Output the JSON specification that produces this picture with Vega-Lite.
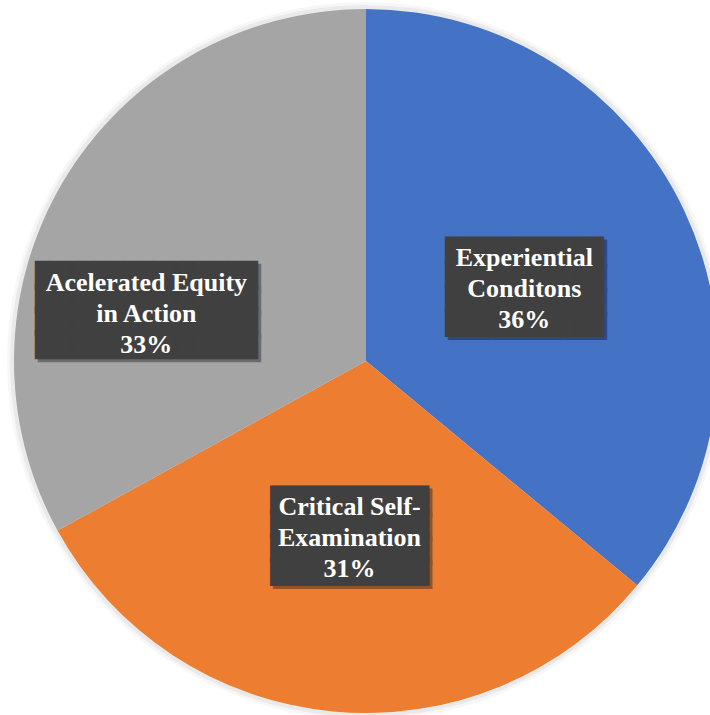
{
  "$schema": "https://vega.github.io/schema/vega-lite/v6.json",
  "width": 732,
  "height": 722,
  "autosize": "none",
  "padding": 0,
  "background": "white",
  "view": {"stroke": null},
  "data": {"values": [
    {"category": "Experiential\nConditons", "value": 36},
    {"category": "Critical Self-\nExamination", "value": 31},
    {"category": "Acelerated Equity\nin Action", "value": 33}
  ]},
  "transform": [
    {"window": [{"op": "row_number", "as": "idx"}]},
    {"calculate": "datum.category + '\\n' + datum.value + '%'", "as": "label"}
  ],
  "encoding": {
    "theta": {"field": "value", "type": "quantitative", "stack": true},
    "order": {"field": "idx", "type": "quantitative"}
  },
  "layer": [
    {"mark": {"type": "arc", "radius": 359, "color": "#000000", "opacity": 0.03}},
    {"mark": {"type": "arc", "radius": 356, "color": "#000000", "opacity": 0.05}},
    {
      "mark": {"type": "arc", "radius": 352},
      "encoding": {
        "color": {"field": "category", "type": "nominal",
          "scale": {"domain": ["Experiential\nConditons", "Critical Self-\nExamination", "Acelerated Equity\nin Action"],
                    "range": ["#4472C4", "#ED7D31", "#A5A5A5"]},
          "legend": null}
      }
    },
    {
      "mark": {"type": "text", "radius": 175, "dx": 3, "dy": -31, "font": "DejaVu Sans Mono", "fontSize": 24, "lineHeight": 24, "align": "center", "baseline": "middle", "color": "#000000",
        "text": ["███████████", "███████████", "███████████", "███████████"]},
      "encoding": {"opacity": {"condition": {"test": "datum.idx !== 3", "value": 0.35}, "value": 0}}
    },
    {
      "mark": {"type": "text", "radius": 175, "dx": 0, "dy": -34, "font": "DejaVu Sans Mono", "fontSize": 24, "lineHeight": 24, "align": "center", "baseline": "middle", "color": "#404040",
        "text": ["███████████", "███████████", "███████████", "███████████"]},
      "encoding": {"opacity": {"condition": {"test": "datum.idx !== 3", "value": 1}, "value": 0}}
    },
    {
      "mark": {"type": "text", "radius": 175, "dx": -66, "dy": 8, "font": "DejaVu Sans Mono", "fontSize": 24.7, "lineHeight": 23, "align": "center", "baseline": "middle", "color": "#000000",
        "text": ["███████████████", "███████████████", "███████████████", "███████████████"]},
      "encoding": {"opacity": {"condition": {"test": "datum.idx === 3", "value": 0.35}, "value": 0}}
    },
    {
      "mark": {"type": "text", "radius": 175, "dx": -69, "dy": 5, "font": "DejaVu Sans Mono", "fontSize": 24.7, "lineHeight": 23, "align": "center", "baseline": "middle", "color": "#404040",
        "text": ["███████████████", "███████████████", "███████████████", "███████████████"]},
      "encoding": {"opacity": {"condition": {"test": "datum.idx === 3", "value": 1}, "value": 0}}
    },
    {
      "mark": {"type": "text", "radius": 175, "dy": -28, "font": "Liberation Serif", "fontWeight": "bold", "fontSize": 26, "lineHeight": 31, "lineBreak": "\n", "align": "center", "baseline": "middle", "color": "white"},
      "encoding": {
        "text": {"field": "label", "type": "nominal"},
        "opacity": {"condition": {"test": "datum.idx !== 3", "value": 1}, "value": 0}
      }
    },
    {
      "mark": {"type": "text", "radius": 175, "dx": -69, "dy": 11, "font": "Liberation Serif", "fontWeight": "bold", "fontSize": 26, "lineHeight": 31, "lineBreak": "\n", "align": "center", "baseline": "middle", "color": "white"},
      "encoding": {
        "text": {"field": "label", "type": "nominal"},
        "opacity": {"condition": {"test": "datum.idx === 3", "value": 1}, "value": 0}
      }
    }
  ]
}
